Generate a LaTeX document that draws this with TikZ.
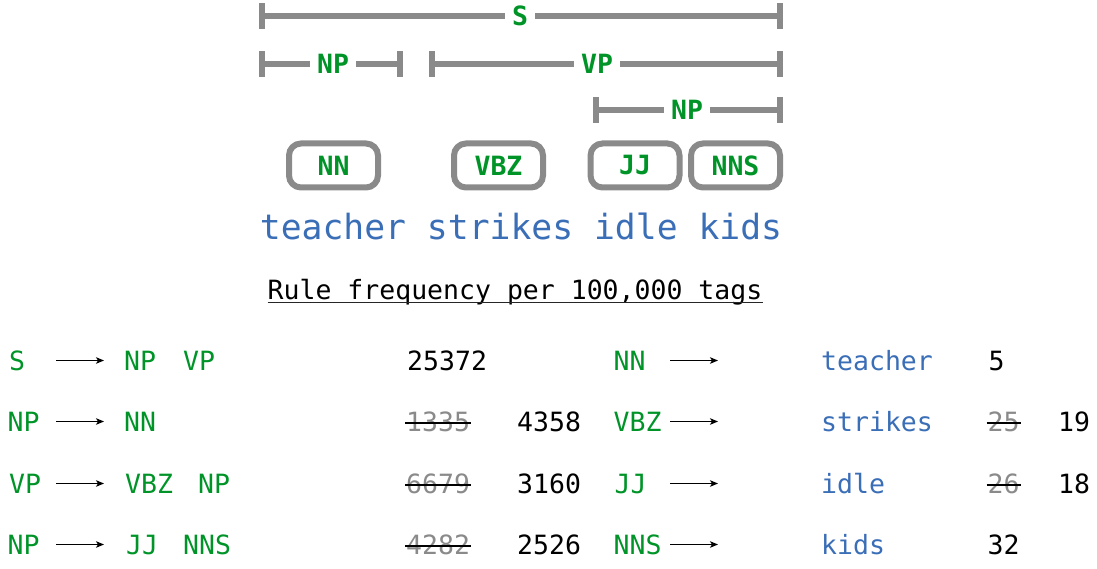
\documentclass[tikz,border=0pt]{standalone}
\usepackage{fontspec}
\setmainfont{DejaVu Sans Mono}
\usetikzlibrary{arrows.meta}
\definecolor{tagg}{RGB}{0,148,40}
\definecolor{wordb}{RGB}{58,110,183}
\definecolor{barg}{RGB}{138,138,138}
\tikzset{
  bar/.style={draw=barg, line width=6pt},
  barlab/.style={text=tagg, fill=white, inner xsep=7.5pt, inner ysep=1pt,
    font=\bfseries\fontsize{26.5}{30}\selectfont},
  tagbox/.style={draw=barg, line width=6pt, rounded corners=12pt,
    minimum width=89pt, minimum height=44pt, inner sep=0pt, text=tagg,
    font=\bfseries\fontsize{26.5}{30}\selectfont},
  wordrow/.style={text=wordb, anchor=base, inner sep=0pt,
    font=\fontsize{34.7}{40}\selectfont},
  tbl/.style={anchor=base west, inner sep=0pt, font=\fontsize{26.5}{30}\selectfont},
  sym/.style={tbl, text=tagg},
  wd/.style={tbl, text=wordb},
  num/.style={tbl, text=black},
  oldnum/.style={tbl, text=barg},
  rarrow/.style={-{Stealth[length=8pt,width=6.5pt,inset=2pt]}, line width=1.2pt, black},
  strike/.style={line width=1.6pt, black}
}
\newcommand{\strikeit}[1]{\draw[strike] ([shift={(-1,-8)}]#1.base west) -- ([shift={(1,-8)}]#1.base east);}
\begin{document}
\begin{tikzpicture}[x=1pt,y=-1pt]
\useasboundingbox (0,0) rectangle (1097,569);
% brackets
\coordinate (sL) at (261.5,16); \coordinate (sR) at (780,16);
\draw[bar] ([yshift=-13]sL) -- ([yshift=13]sL) (sL) -- (sR) ([yshift=-13]sR) -- ([yshift=13]sR);
\node[barlab] (sLab) at (520,16) {S};
\coordinate (np1L) at (261.5,64); \coordinate (np1R) at (399.5,64);
\draw[bar] ([yshift=-13]np1L) -- ([yshift=13]np1L) (np1L) -- (np1R) ([yshift=-13]np1R) -- ([yshift=13]np1R);
\node[barlab] (np1Lab) at (333,64) {NP};
\coordinate (vpL) at (432,64); \coordinate (vpR) at (780,64);
\draw[bar] ([yshift=-13]vpL) -- ([yshift=13]vpL) (vpL) -- (vpR) ([yshift=-13]vpR) -- ([yshift=13]vpR);
\node[barlab] (vpLab) at (597,64) {VP};
\coordinate (np2L) at (596,110); \coordinate (np2R) at (780,110);
\draw[bar] ([yshift=-13]np2L) -- ([yshift=13]np2L) (np2L) -- (np2R) ([yshift=-13]np2R) -- ([yshift=13]np2R);
\node[barlab] (np2Lab) at (687,110) {NP};
% tag boxes
\node[tagbox] (bNN) at (333.5,165.5) {NN};
\node[tagbox] (bVBZ) at (498.5,165.5) {VBZ};
\node[tagbox] (bJJ) at (635,165.5) {JJ};
\node[tagbox] (bNNS) at (735.5,165.5) {NNS};
% sentence
\node[wordrow] (sent) at (521,240) {teacher strikes idle kids};
% title
\node[tbl, anchor=base] (title) at (515,299) {Rule frequency per 100,000 tags};
\draw[line width=1.6pt, black!85] ([yshift=-3.5pt]title.base west) -- ([yshift=-3.5pt]title.base east);
% left table
\node[sym] (l1a) at (9,370) {S};
\node[sym] (l2a) at (7.5,431) {NP};
\node[sym] (l3a) at (9,493) {VP};
\node[sym] (l4a) at (7.5,554) {NP};
\foreach \r/\y in {1/370,2/431,3/493,4/554}{
  \coordinate (la\r) at (56,\y-9.5); \coordinate (lb\r) at (104,\y-9.5);
  \draw[rarrow] (la\r) -- (lb\r);
  \coordinate (ra\r) at (670,\y-9.5); \coordinate (rb\r) at (718,\y-9.5);
  \draw[rarrow] (ra\r) -- (rb\r);
}
\node[sym] (l1b) at (124,370) {NP};
\node[sym] (l1c) at (183,370) {VP};
\node[sym] (l2b) at (124,431) {NN};
\node[sym] (l3b) at (125,493) {VBZ};
\node[sym] (l3c) at (198,493) {NP};
\node[sym] (l4b) at (126,554) {JJ};
\node[sym] (l4c) at (183,554) {NNS};
\node[num] (n1) at (407,370) {25372};
\node[oldnum] (o2) at (406,431) {1335}; \strikeit{o2}
\node[oldnum] (o3) at (406,493) {6679}; \strikeit{o3}
\node[oldnum] (o4) at (406,554) {4282}; \strikeit{o4}
\node[num] (n2) at (517,431) {4358};
\node[num] (n3) at (517,493) {3160};
\node[num] (n4) at (517,554) {2526};
% right table
\node[sym] (r1a) at (613.5,370) {NN};
\node[sym] (r2a) at (613.5,431) {VBZ};
\node[sym] (r3a) at (614.5,493) {JJ};
\node[sym] (r4a) at (613.5,554) {NNS};
\node[wd] (w1) at (821,370) {teacher};
\node[wd] (w2) at (821,431) {strikes};
\node[wd] (w3) at (821,493) {idle};
\node[wd] (w4) at (821,554) {kids};
\node[num] (m1) at (988.5,370) {5};
\node[oldnum] (p2) at (987.5,431) {25}; \strikeit{p2}
\node[oldnum] (p3) at (987.5,493) {26}; \strikeit{p3}
\node[num] (m4) at (987.5,554) {32};
\node[num] (q2) at (1058,431) {19};
\node[num] (q3) at (1058,493) {18};
\end{tikzpicture}
\end{document}
